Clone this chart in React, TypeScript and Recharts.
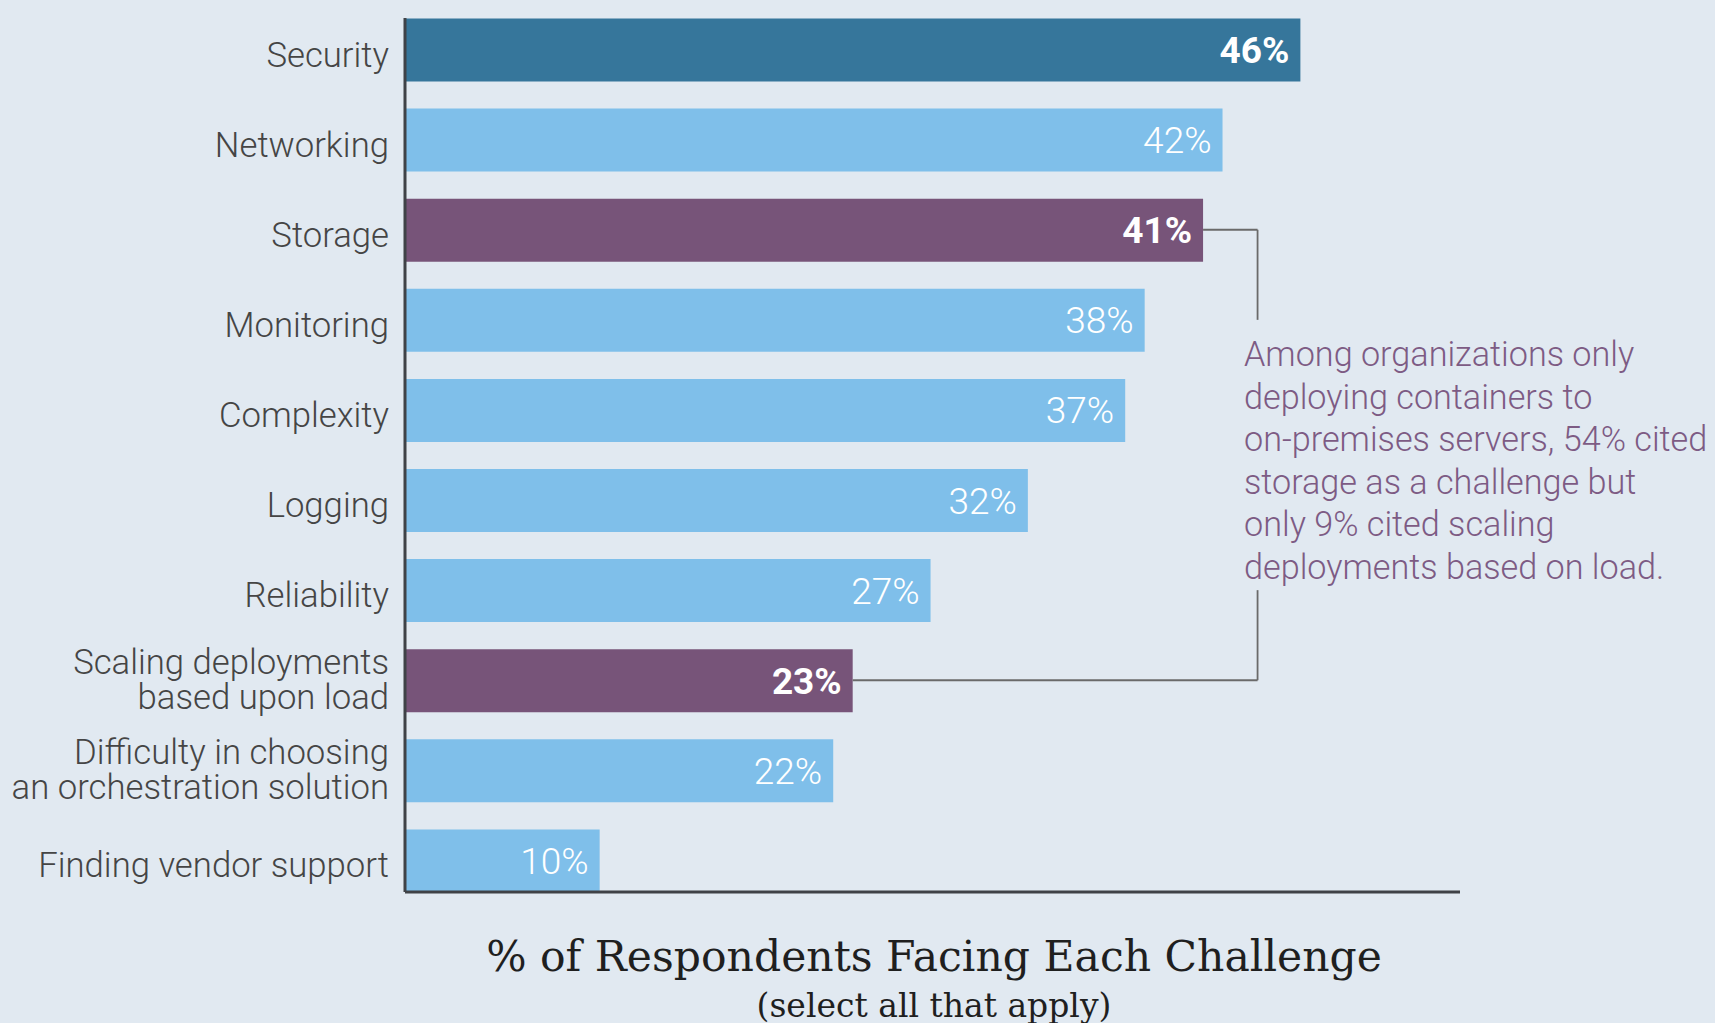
import { BarChart, Bar, XAxis, YAxis, Cell, LabelList, ReferenceLine } from 'recharts';

const categories = [
  'Security',
  'Networking',
  'Storage',
  'Monitoring',
  'Complexity',
  'Logging',
  'Reliability',
  'Scaling deployments\nbased upon load',
  'Difficulty in choosing\nan orchestration solution',
  'Finding vendor support',
];
const respondents = [46, 42, 41, 38, 37, 32, 27, 23, 22, 10];
// top = leading bar, note = bars tied to the side note, plain = the rest
const emphasis = ['top', 'plain', 'note', 'plain', 'plain', 'plain', 'plain', 'note', 'plain', 'plain'];

const noteLines = [
  'Among organizations only',
  'deploying containers to',
  'on-premises servers, 54% cited',
  'storage as a challenge but',
  'only 9% cited scaling',
  'deployments based on load.',
];
const axisTitle = '% of Respondents Facing Each Challenge';
const axisSubtitle = '(select all that apply)';

const X_MAX = 54.2;
const NOTE_X = 43.8;

const FILL: Record<string, string> = {
  top: '#36769b',
  note: '#775479',
  plain: '#7fbfea',
};

const BG = '#e1e9f1';
const AXIS = '#3f4247';
const TEXT = '#454545';
const NOTE = '#7d5b84';
const LINE = '#6a6a6a';

const data = categories.map((name, i) => ({ name, value: respondents[i], kind: emphasis[i] }));

function CategoryTick(props: any) {
  const { x, y, payload } = props;
  const lines = String(payload.value).split('\n');
  const style = { fontFamily: 'Roboto', fontWeight: 300, fontSize: 34.7, fill: TEXT };
  if (lines.length === 1) {
    return (
      <text x={x} y={y + 17} textAnchor="end" style={style}>
        {lines[0]}
      </text>
    );
  }
  return (
    <text x={x} y={y} textAnchor="end" style={style}>
      {lines.map((l, i) => (
        <tspan key={i} x={x} y={y - 6 + i * 35}>
          {l}
        </tspan>
      ))}
    </text>
  );
}

function ValueLabel(props: any) {
  const { x, y, width, height, value, index } = props;
  const bold = emphasis[index] !== 'plain';
  return (
    <text
      x={x + width - 11}
      y={y + height / 2 + 13}
      textAnchor="end"
      style={{ fontFamily: 'Roboto', fontWeight: bold ? 700 : 300, fontSize: 37, fill: '#ffffff' }}
    >
      {`${value}%`}
    </text>
  );
}

export default function App() {
  return (
    <div style={{ position: 'absolute', left: 0, top: 0, width: 1715, height: 1023, background: BG, overflow: 'hidden' }}>
      <BarChart
        width={1715}
        height={1023}
        data={data}
        layout="vertical"
        margin={{ top: 18, right: 255, bottom: 0, left: 0 }}
      >
        <XAxis
          type="number"
          domain={[0, X_MAX]}
          tick={false}
          tickLine={false}
          axisLine={{ stroke: AXIS, strokeWidth: 3 }}
          height={131}
        />
        <YAxis
          type="category"
          dataKey="name"
          width={405}
          interval={0}
          tickLine={false}
          tickSize={0}
          tickMargin={16}
          axisLine={{ stroke: AXIS, strokeWidth: 3 }}
          padding={{ top: -13.5, bottom: -13.5 }}
          tick={<CategoryTick />}
        />
        <Bar dataKey="value" barSize={63} isAnimationActive={false}>
          {data.map((d, i) => (
            <Cell key={i} fill={FILL[d.kind]} />
          ))}
          <LabelList dataKey="value" content={<ValueLabel />} />
        </Bar>
        <ReferenceLine
          segment={[{ x: respondents[2], y: categories[2] }, { x: NOTE_X, y: categories[2] }]}
          stroke={LINE}
          strokeWidth={1.8}
        />
        <ReferenceLine
          segment={[{ x: NOTE_X, y: categories[2] }, { x: NOTE_X, y: categories[3] }]}
          stroke={LINE}
          strokeWidth={1.8}
        />
        <ReferenceLine
          segment={[{ x: respondents[7], y: categories[7] }, { x: NOTE_X, y: categories[7] }]}
          stroke={LINE}
          strokeWidth={1.8}
        />
        <ReferenceLine
          segment={[{ x: NOTE_X, y: categories[7] }, { x: NOTE_X, y: categories[6] }]}
          stroke={LINE}
          strokeWidth={1.8}
        />
      </BarChart>
      <svg width={1715} height={1023} style={{ position: 'absolute', left: 0, top: 0, pointerEvents: 'none' }}>
        <text style={{ fontFamily: 'Roboto', fontWeight: 300, fontSize: 34.2, fill: NOTE }}>
          {noteLines.map((l, i) => (
            <tspan key={i} x={1244} y={366 + i * 42.5}>
              {l}
            </tspan>
          ))}
        </text>
        <text x={934} y={971} textAnchor="middle" style={{ fontFamily: 'DejaVu Serif', fontSize: 42.5, fill: '#1f1f1f' }}>
          {axisTitle}
        </text>
        <text x={934} y={1017} textAnchor="middle" style={{ fontFamily: 'DejaVu Serif', fontSize: 33, fill: '#1f1f1f' }}>
          {axisSubtitle}
        </text>
      </svg>
    </div>
  );
}
